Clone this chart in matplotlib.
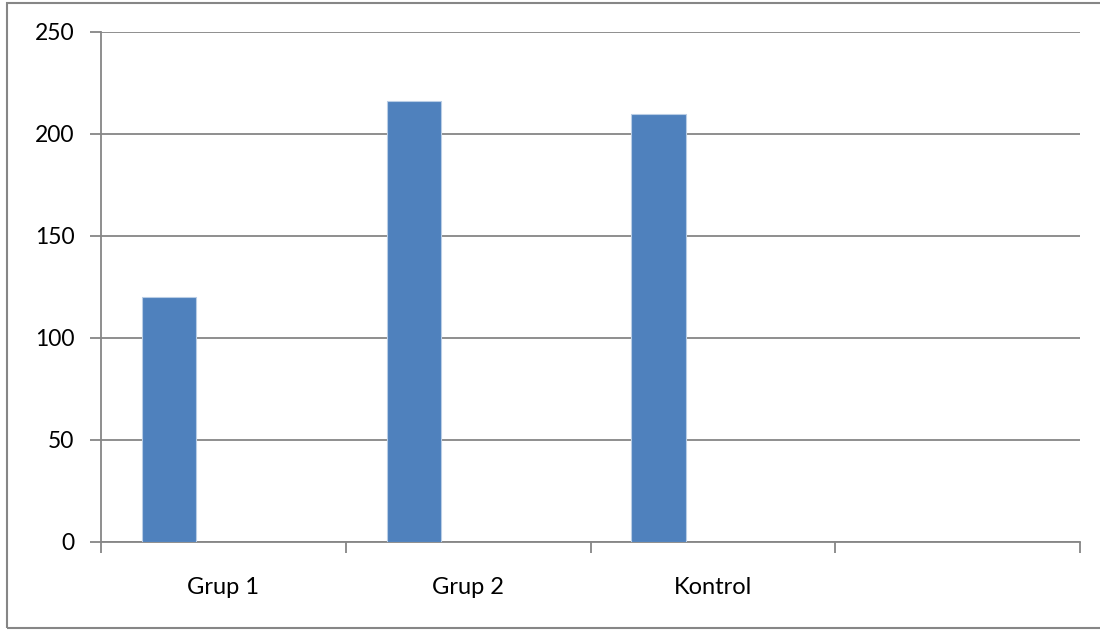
import numpy as np
import matplotlib.pyplot as plt
from matplotlib.patches import Rectangle

categories = ["Grup 1", "Grup 2", "Kontrol", ""]
values = [120, 216, 210, np.nan]
yticks = [0, 50, 100, 150, 200, 250]

plt.rcParams['font.family'] = ['Lato', 'DejaVu Sans']
grey = '#868686'

fig = plt.figure(figsize=(11, 6.31), dpi=100)
ax = fig.add_axes([101 / 1100, 1 - 542 / 631, 979 / 1100, 510 / 631])

# Excel-style layout: 3 series slots with 150% gap width, only first series filled
x = np.arange(len(categories))
w = 1 / 4.5
ax.bar(x - w, values, width=w, color='#4F81BD', edgecolor='#B9CDE5', linewidth=0.8, zorder=3)

ax.set_xlim(-0.5, len(categories) - 0.5)
ax.set_ylim(0, 250)
ax.set_yticks(yticks)
ax.set_xticks(x)
ax.set_xticklabels(categories)
ax.set_xticks(np.arange(-0.5, len(categories)), minor=True)

ax.grid(axis='y', color=grey, linewidth=1.3, zorder=1)
ax.set_axisbelow(True)
for s in ['top', 'right']:
    ax.spines[s].set_visible(False)
for s in ['left', 'bottom']:
    ax.spines[s].set_color(grey)
    ax.spines[s].set_linewidth(1.3)

ax.tick_params(axis='y', length=8, width=1.3, color=grey, pad=11, labelsize=16.5)
ax.tick_params(axis='x', which='major', length=0, pad=25, labelsize=17)
ax.tick_params(axis='x', which='minor', length=8, width=1.3, color=grey)

# outer chart border
fig.patches.append(Rectangle((6.5 / 1100, 1 - 627.5 / 631), 1.2, 625 / 631,
                             transform=fig.transFigure, fill=False,
                             edgecolor=grey, linewidth=1.5))

fig.savefig('out.png', dpi=100)
